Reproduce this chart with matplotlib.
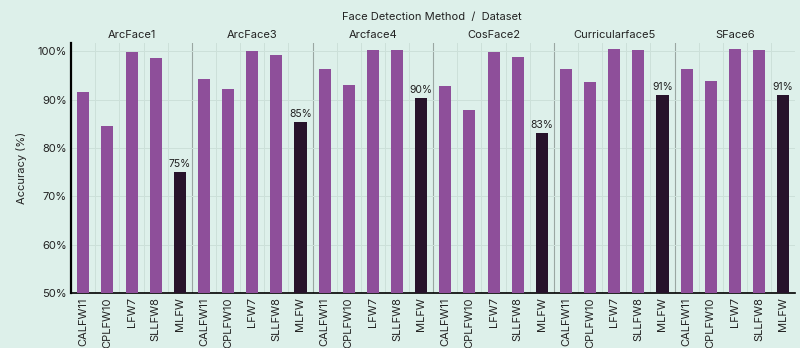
import matplotlib.pyplot as plt
import numpy as np

methods = ['ArcFace1', 'ArcFace3', 'Arcface4', 'CosFace2', 'Curricularface5', 'SFace6']
datasets = ['CALFW11', 'CPLFW10', 'LFW7', 'SLLFW8', 'MLFW']
acc = {
    'ArcFace1': [91.6, 84.5, 99.9, 98.5, 75.0],
    'ArcFace3': [94.2, 92.1, 100.0, 99.3, 85.3],
    'Arcface4': [96.3, 92.9, 100.3, 100.2, 90.4],
    'CosFace2': [92.8, 87.8, 99.9, 98.8, 83.1],
    'Curricularface5': [96.4, 93.7, 100.35, 100.2, 91.0],
    'SFace6': [96.3, 93.8, 100.35, 100.2, 91.0],
}

bg = '#ddf0ea'
purple = '#8e4f9a'
dark = '#27132b'
plt.rcParams['font.family'] = ['Inter', 'DejaVu Sans']

fig = plt.figure(figsize=(8, 3.48), dpi=100, facecolor=bg)
ax = fig.add_axes([0.089, 0.158, 0.905, 0.718], facecolor=bg)

n = len(datasets)
labels = []
for g, m in enumerate(methods):
    for j, d in enumerate(datasets):
        x = g * n + j
        v = acc[m][j]
        col = dark if d == 'MLFW' else purple
        ax.bar(x, v - 50, bottom=50, width=0.5, color=col, zorder=3)
        if d == 'MLFW':
            ax.text(x, v + 0.6, f'{round(v):.0f}%', ha='center', va='bottom',
                    fontsize=7.5, color='#222222', zorder=4)
        labels.append(d)
    ax.text(g * n + 2, 102.3, m, ha='center', va='bottom', fontsize=8, color='#222222')
    if g > 0:
        ax.axvline(g * n - 0.5, color='#9aa7a2', lw=0.8, zorder=1)

ax.set_xlim(-0.5, len(methods) * n - 0.5)
ax.set_ylim(50, 101.65)
ax.set_xticks(np.arange(len(labels)))
ax.set_xticklabels(labels, rotation=90, fontsize=8, color='#222222')
ax.set_yticks([50, 60, 70, 80, 90, 100])
ax.set_yticklabels([f'{t}%' for t in [50, 60, 70, 80, 90, 100]], fontsize=8, color='#222222')
ax.tick_params(length=0, pad=3)

for x in np.arange(0.5, len(labels) - 1, 1):
    if (x + 0.5) % n != 0:
        ax.axvline(x, color='#cce0d9', lw=0.7, zorder=1)
for y in [60, 70, 80, 90, 100]:
    ax.axhline(y, color='#cce0d9', lw=0.7, zorder=1)

for s in ['top', 'right']:
    ax.spines[s].set_visible(False)
ax.spines['left'].set_linewidth(1.6)
ax.spines['bottom'].set_linewidth(1.2)
ax.set_ylabel('Accuracy (%)', fontsize=8, color='#222222', labelpad=8)
fig.text(0.54, 0.95, 'Face Detection Method  /  Dataset', ha='center', va='center',
         fontsize=8, color='#222222')

fig.savefig('out.png', dpi=100, facecolor=bg)
